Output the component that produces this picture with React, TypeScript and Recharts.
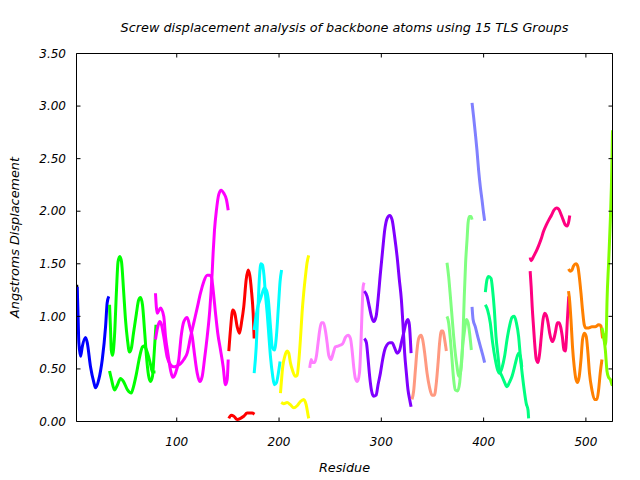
import React from 'react';
import { LineChart, Line, XAxis, YAxis, Label } from 'recharts';

type Pt = [number, number];

const X_TICKS = [100, 200, 300, 400, 500];
const Y_TICKS = [0, 0.5, 1, 1.5, 2, 2.5, 3, 3.5];

const BLACK_A: Pt[] = [[2.2, 1.3], [2.8, 0.88]];
const BLUE_A: Pt[] = [[2.7, 1.28], [3.4, 1.05], [4.3, 0.75], [6.0, 0.62], [7.6, 0.71], [10.8, 0.8], [12.5, 0.75], [15.7, 0.52], [19.0, 0.37], [20.6, 0.32], [23.8, 0.4], [27.2, 0.59], [30.4, 0.9], [32.0, 1.13], [33.6, 1.19]];
const GREEN_A: Pt[] = [[34.3, 1.11], [35.3, 0.87], [36.0, 0.68], [37.2, 0.63], [39.2, 0.82], [41.1, 1.25], [42.6, 1.52], [44.4, 1.57], [46.0, 1.52], [48.0, 1.25], [49.9, 0.97], [51.8, 0.78], [53.8, 0.66], [55.7, 0.7], [57.7, 0.84], [60.6, 1.03], [62.6, 1.15], [64.6, 1.18], [66.5, 1.11], [68.5, 0.87], [70.4, 0.62], [72.4, 0.44], [74.4, 0.38], [76.3, 0.43], [77.8, 0.63], [79.7, 0.92]];
const GREEN_B: Pt[] = [[34.3, 0.48], [36.2, 0.4], [39.2, 0.3], [42.1, 0.35], [45.0, 0.41], [48.0, 0.38], [51.9, 0.3], [55.5, 0.27], [57.7, 0.33], [60.7, 0.46], [63.6, 0.61], [66.5, 0.71], [68.5, 0.72], [70.4, 0.68], [72.4, 0.62], [74.4, 0.54], [76.3, 0.47], [79.2, 0.47]];
const MAGENTA_A: Pt[] = [[79.2, 1.22], [80.9, 1.03], [84.1, 1.08], [87.3, 1.0], [89.0, 0.81], [91.3, 0.65], [93.9, 0.49], [96.1, 0.42], [98.8, 0.46], [102.0, 0.59], [104.3, 0.81], [106.9, 0.95], [110.2, 0.99], [112.8, 0.9], [115.1, 0.81], [117.6, 0.62], [120.0, 0.46], [122.5, 0.38], [124.9, 0.43], [127.1, 0.59], [129.8, 0.81], [132.3, 1.06], [134.6, 1.41], [135.6, 1.61], [136.9, 1.82], [138.8, 2.01], [141.1, 2.16], [143.4, 2.2], [146.0, 2.17], [148.6, 2.11], [150.3, 2.01]];
const MAGENTA_B: Pt[] = [[79.2, 0.78], [81.2, 0.89], [83.2, 0.95], [85.1, 0.92], [87.1, 0.82], [90.7, 0.61], [93.9, 0.54], [97.1, 0.52], [100.4, 0.53], [103.7, 0.55], [106.9, 0.59], [110.2, 0.65], [113.4, 0.8], [116.7, 0.94], [120.0, 1.08], [123.2, 1.22], [126.4, 1.33], [129.8, 1.39], [132.3, 1.39], [134.0, 1.37], [135.6, 1.25], [137.9, 1.03], [140.1, 0.84], [142.8, 0.68], [145.4, 0.52], [147.6, 0.35], [149.3, 0.4], [150.3, 0.59]];
const RED_A: Pt[] = [[150.9, 0.67], [152.5, 0.87], [154.8, 1.06], [156.7, 1.03], [159.1, 0.9], [161.3, 0.84], [163.3, 0.94], [165.5, 1.09], [167.9, 1.35], [169.8, 1.44], [171.4, 1.39], [173.0, 1.25], [174.7, 1.03], [175.7, 0.79]];
const RED_B: Pt[] = [[150.9, 0.03], [153.3, 0.06], [155.8, 0.05], [159.1, 0.02], [162.3, 0.03], [165.5, 0.05], [168.8, 0.08], [173.7, 0.08], [176.0, 0.07]];
const CYAN_A: Pt[] = [[175.7, 0.46], [177.7, 0.71], [179.2, 1.03], [180.9, 1.38], [182.3, 1.5], [183.8, 1.49], [185.3, 1.39], [186.8, 1.2], [188.4, 1.03], [190.1, 0.81], [191.7, 0.61], [193.7, 0.44], [195.5, 0.35], [197.5, 0.37], [199.5, 0.47], [201.0, 0.57]];
const CYAN_B: Pt[] = [[175.7, 0.87], [177.7, 1.01], [179.7, 1.11], [181.6, 1.16], [183.6, 1.22], [185.6, 1.27], [187.6, 1.25], [189.5, 1.16], [191.5, 0.92], [193.5, 0.7], [195.5, 0.68], [197.5, 0.82], [199.5, 1.11], [201.0, 1.33], [202.5, 1.44]];
const YELLOW_A: Pt[] = [[201.4, 0.27], [202.3, 0.38], [203.6, 0.52], [205.6, 0.62], [207.9, 0.67], [209.5, 0.65], [211.1, 0.56], [213.4, 0.48], [216.0, 0.43], [217.7, 0.44], [219.2, 0.56], [220.9, 0.78], [222.5, 1.03], [224.1, 1.22], [225.8, 1.38], [227.4, 1.51], [229.0, 1.58]];
const YELLOW_B: Pt[] = [[202.1, 0.18], [204.6, 0.17], [207.9, 0.18], [211.1, 0.16], [214.4, 0.13], [217.7, 0.15], [220.9, 0.19], [224.1, 0.21], [226.5, 0.16], [228.4, 0.06], [229.0, 0.03]];
const VIOLET_A: Pt[] = [[230.0, 0.51], [231.4, 0.59], [232.9, 0.56], [234.9, 0.56], [236.5, 0.62], [238.2, 0.75], [239.8, 0.87], [241.4, 0.94], [243.4, 0.94], [245.4, 0.86], [247.0, 0.75], [248.6, 0.63], [250.9, 0.59], [252.9, 0.65], [255.1, 0.71], [258.3, 0.72], [262.2, 0.74], [264.9, 0.8], [267.5, 0.82], [269.8, 0.79], [271.4, 0.68], [273.0, 0.52], [274.6, 0.41], [276.6, 0.38], [278.6, 0.46], [280.2, 0.78], [281.2, 1.06], [282.2, 1.28], [283.2, 1.32]];
const PURPLE_A: Pt[] = [[283.4, 1.24], [286.1, 1.19], [288.3, 1.09], [290.3, 1.0], [292.5, 0.95], [294.9, 1.0], [296.8, 1.16], [299.1, 1.41], [301.3, 1.63], [303.3, 1.82], [305.6, 1.93], [308.2, 1.96], [310.5, 1.92], [313.0, 1.76], [315.4, 1.57], [317.6, 1.35], [319.6, 1.16], [321.3, 0.9], [322.8, 0.65], [324.5, 0.46], [326.1, 0.3], [327.7, 0.21], [329.1, 0.14]];
const PURPLE_B: Pt[] = [[283.4, 0.79], [285.4, 0.75], [287.1, 0.59], [288.6, 0.43], [290.3, 0.3], [292.5, 0.24], [294.9, 0.25], [296.8, 0.35], [299.1, 0.46], [301.3, 0.59], [303.3, 0.68], [305.6, 0.73], [308.2, 0.75], [310.5, 0.75], [313.0, 0.7], [315.4, 0.65], [317.6, 0.67], [319.6, 0.75], [321.8, 0.84], [324.2, 0.94], [326.1, 0.97], [327.4, 0.92], [328.4, 0.78], [329.1, 0.65]];
const SALMON_A: Pt[] = [[330.0, 0.21], [331.6, 0.29], [333.3, 0.49], [334.9, 0.68], [336.5, 0.79], [338.8, 0.82], [340.4, 0.78], [342.4, 0.65], [344.7, 0.46], [347.0, 0.33], [349.6, 0.25], [351.9, 0.25], [353.8, 0.37], [355.5, 0.56], [357.0, 0.75], [358.7, 0.86], [360.3, 0.86], [361.9, 0.78], [363.6, 0.67]];
const LGREEN_A: Pt[] = [[364.2, 1.51], [365.8, 1.38], [367.5, 1.19], [369.1, 1.0], [370.7, 0.81], [372.3, 0.65], [374.0, 0.52], [375.6, 0.43], [377.2, 0.46], [378.9, 0.62], [379.9, 0.84], [381.1, 1.19], [382.4, 1.51], [383.8, 1.73], [384.8, 1.89], [386.0, 1.95], [387.7, 1.95], [388.7, 1.92]];
const LGREEN_B: Pt[] = [[364.2, 1.0], [365.8, 0.94], [367.5, 0.78], [369.1, 0.59], [370.7, 0.4], [372.3, 0.3], [374.6, 0.29], [376.6, 0.37], [378.2, 0.56], [379.9, 0.75], [381.4, 0.87], [383.1, 0.97], [384.8, 0.94], [386.3, 0.84], [388.0, 0.68]];
const SLATE_A: Pt[] = [[388.7, 3.03], [390.2, 2.9], [391.9, 2.74], [393.5, 2.58], [395.1, 2.39], [396.8, 2.23], [398.4, 2.11], [400.0, 1.98], [401.0, 1.91]];
const SLATE_B: Pt[] = [[388.7, 1.09], [389.7, 0.97], [391.9, 0.9], [394.2, 0.81], [396.1, 0.74], [397.8, 0.68], [399.5, 0.62], [401.0, 0.56]];
const SPRING_A: Pt[] = [[401.7, 1.23], [403.3, 1.35], [404.9, 1.38], [407.3, 1.36], [408.8, 1.25], [410.5, 1.06], [412.1, 0.81], [414.1, 0.62], [415.6, 0.49], [418.0, 0.43], [420.2, 0.38], [422.9, 0.33], [425.1, 0.37], [427.8, 0.43], [430.0, 0.51], [432.0, 0.59], [434.2, 0.65], [435.9, 0.62], [437.3, 0.52]];
const SPRING_B: Pt[] = [[401.7, 1.11], [403.9, 1.06], [406.5, 0.94], [408.8, 0.75], [411.4, 0.59], [413.7, 0.49], [415.6, 0.46], [418.0, 0.51], [420.5, 0.62], [422.9, 0.78], [425.4, 0.91], [427.8, 0.99], [430.0, 1.0], [432.0, 0.94], [434.2, 0.81], [435.9, 0.62], [437.9, 0.44], [440.1, 0.27], [441.7, 0.17], [443.4, 0.11], [444.0, 0.03]];
const PINK_A: Pt[] = [[445.5, 1.56], [446.5, 1.53], [448.8, 1.57], [451.5, 1.62], [454.1, 1.68], [456.4, 1.74], [458.6, 1.81], [461.3, 1.87], [463.9, 1.92], [466.2, 1.96], [468.8, 2.01], [471.1, 2.03], [473.4, 2.02], [475.3, 1.98], [477.7, 1.92], [479.9, 1.87], [481.9, 1.86], [483.2, 1.9], [484.2, 1.96]];
const PINK_B: Pt[] = [[445.5, 1.43], [446.5, 1.28], [447.5, 1.09], [448.8, 0.9], [450.2, 0.71], [451.5, 0.59], [453.2, 0.56], [454.8, 0.65], [456.4, 0.81], [458.1, 0.97], [459.7, 1.03], [461.3, 1.01], [463.0, 0.94], [464.6, 0.84], [467.0, 0.76], [468.8, 0.79], [470.4, 0.86], [472.1, 0.94], [473.7, 0.94], [475.3, 0.9], [476.9, 0.81], [478.6, 0.68], [479.9, 0.67], [480.9, 0.78], [481.9, 0.97], [483.2, 1.19]];
const ORANGE_A: Pt[] = [[483.0, 1.45], [484.7, 1.43], [486.4, 1.44], [487.9, 1.48], [490.3, 1.5], [492.2, 1.47], [493.5, 1.38], [495.2, 1.22], [496.7, 1.06], [498.4, 0.92], [500.0, 0.89], [502.6, 0.89], [505.9, 0.9], [509.1, 0.9], [512.4, 0.92], [514.7, 0.91], [515.7, 0.84], [516.3, 0.79]];
const ORANGE_B: Pt[] = [[483.0, 1.24], [484.0, 1.16], [485.4, 0.97], [486.9, 0.71], [488.6, 0.52], [490.3, 0.4], [491.9, 0.37], [493.5, 0.43], [495.2, 0.59], [496.7, 0.78], [498.4, 0.84], [500.3, 0.81], [502.0, 0.65], [503.5, 0.46], [505.9, 0.3], [508.4, 0.21], [510.8, 0.21], [512.4, 0.3], [514.0, 0.46], [515.7, 0.59]];
const LIME_A: Pt[] = [[515.7, 0.89], [517.3, 0.81], [519.0, 0.68], [520.6, 0.48], [522.2, 0.42], [523.9, 0.4], [525.2, 0.36], [526.0, 0.34]];
const LIME_B: Pt[] = [[517.3, 0.84], [519.0, 0.73], [520.0, 0.87], [520.6, 1.13], [522.2, 1.51], [523.9, 1.92], [524.9, 2.23], [525.6, 2.55], [526.0, 2.77]];

const SERIES: { id: string; color: string; pts: Pt[] }[] = [
  { id: 'black-a', color: '#000000', pts: BLACK_A },
  { id: 'blue-a', color: '#0000ff', pts: BLUE_A },
  { id: 'green-a', color: '#00ff00', pts: GREEN_A },
  { id: 'green-b', color: '#00ff00', pts: GREEN_B },
  { id: 'magenta-a', color: '#ff00ff', pts: MAGENTA_A },
  { id: 'magenta-b', color: '#ff00ff', pts: MAGENTA_B },
  { id: 'red-a', color: '#ff0000', pts: RED_A },
  { id: 'red-b', color: '#ff0000', pts: RED_B },
  { id: 'cyan-a', color: '#00ffff', pts: CYAN_A },
  { id: 'cyan-b', color: '#00ffff', pts: CYAN_B },
  { id: 'yellow-a', color: '#ffff00', pts: YELLOW_A },
  { id: 'yellow-b', color: '#ffff00', pts: YELLOW_B },
  { id: 'violet-a', color: '#ff80ff', pts: VIOLET_A },
  { id: 'purple-a', color: '#8000ff', pts: PURPLE_A },
  { id: 'purple-b', color: '#8000ff', pts: PURPLE_B },
  { id: 'salmon-a', color: '#ff9980', pts: SALMON_A },
  { id: 'lgreen-a', color: '#80ff80', pts: LGREEN_A },
  { id: 'lgreen-b', color: '#80ff80', pts: LGREEN_B },
  { id: 'slate-a', color: '#8080ff', pts: SLATE_A },
  { id: 'slate-b', color: '#8080ff', pts: SLATE_B },
  { id: 'spring-a', color: '#00ff80', pts: SPRING_A },
  { id: 'spring-b', color: '#00ff80', pts: SPRING_B },
  { id: 'pink-a', color: '#ff0080', pts: PINK_A },
  { id: 'pink-b', color: '#ff0080', pts: PINK_B },
  { id: 'orange-a', color: '#ff8000', pts: ORANGE_A },
  { id: 'orange-b', color: '#ff8000', pts: ORANGE_B },
  { id: 'lime-a', color: '#80ff00', pts: LIME_A },
  { id: 'lime-b', color: '#80ff00', pts: LIME_B },
];

const FONT = 'DejaVu Sans';
const tickStyle = { fontFamily: FONT, fontStyle: 'italic', fontSize: 12, fill: '#000' };
const titleStyle = { fontFamily: FONT, fontStyle: 'italic', fontSize: 12.8, fill: '#000' };
const NoLabel = () => <g />;

export default function App() {
  return (
    <div style={{ width: 632, height: 472 }}>
      <LineChart width={632} height={472} margin={{ top: 44.5, right: 26.5, bottom: 0, left: 0 }}>
        <XAxis
          xAxisId="b"
          type="number"
          dataKey="r"
          domain={[2, 526]}
          allowDataOverflow
          ticks={X_TICKS}
          interval={0}
          height={58.5}
          tickSize={-4}
          tickMargin={20}
          stroke="#000"
          tick={tickStyle}
        >
          <Label value="Residue" position="insideBottom" offset={8} style={titleStyle} />
        </XAxis>
        <XAxis
          xAxisId="t"
          orientation="top"
          type="number"
          dataKey="r"
          domain={[2, 526]}
          allowDataOverflow
          ticks={X_TICKS}
          interval={0}
          height={1}
          tickSize={-4}
          stroke="#000"
          tick={NoLabel}
        >
          <Label value="Screw displacement analysis of backbone atoms using 15 TLS Groups" position="top" offset={21} style={titleStyle} />
        </XAxis>
        <YAxis
          yAxisId="l"
          type="number"
          domain={[0, 3.5]}
          allowDataOverflow
          ticks={Y_TICKS}
          interval={0}
          width={68.5}
          tickSize={-4}
          tickMargin={14.5}
          stroke="#000"
          tick={tickStyle}
          tickFormatter={(v: number) => v.toFixed(2)}
        >
          <Label value="Angstroms Displacement" angle={-90} position="insideLeft" offset={6} style={{ ...titleStyle, textAnchor: 'middle' }} />
        </YAxis>
        <YAxis
          yAxisId="r"
          orientation="right"
          type="number"
          domain={[0, 3.5]}
          allowDataOverflow
          ticks={Y_TICKS}
          interval={0}
          width={1}
          tickSize={-4}
          stroke="#000"
          tick={NoLabel}
        />
        {SERIES.map((s) => (
          <Line
            key={s.id}
            xAxisId="b"
            yAxisId="l"
            data={s.pts.map(([r, v]) => ({ r, v }))}
            dataKey="v"
            type="monotone"
            stroke={s.color}
            strokeWidth={3}
            dot={false}
            activeDot={false}
            isAnimationActive={false}
          />
        ))}
      </LineChart>
    </div>
  );
}
